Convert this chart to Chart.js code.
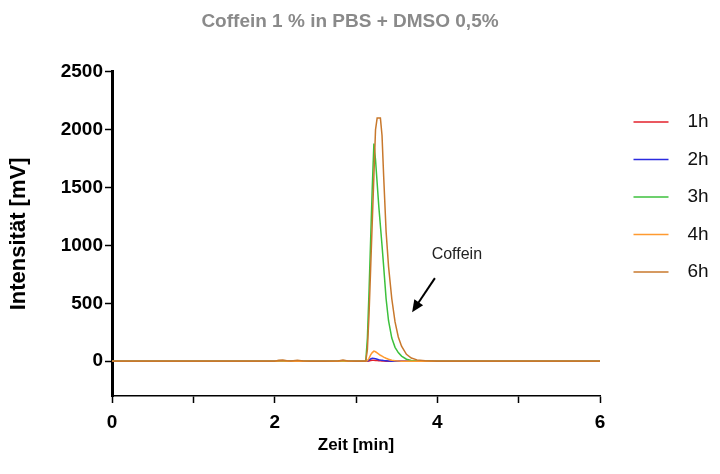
<!DOCTYPE html>
<html lang="de">
<head>
<meta charset="UTF-8">
<title>Coffein 1 % in PBS + DMSO 0,5%</title>
<script src="https://cdn.jsdelivr.net/npm/chart.js"></script>
<style>
body { margin: 0; background: #fff; }
.chart-box { width: 720px; height: 474px; position: relative; }
</style>
</head>
<body>
<div class="chart-box"><canvas id="chromChart"></canvas></div>
<script>
// Retentionszeit [min], dichter um den Coffein-Peak
const zeit = [0, 0.5, 1, 1.5, 2, 2.05, 2.1, 2.15, 2.2, 2.28, 2.35, 2.45, 2.6, 2.78, 2.84, 2.9, 3.0, 3.1,
              3.12, 3.14, 3.16, 3.18, 3.2, 3.22, 3.24, 3.26, 3.28, 3.3, 3.32, 3.34, 3.37, 3.4, 3.44, 3.48,
              3.52, 3.56, 3.62, 3.68, 3.75, 3.85,
              4.0, 4.5, 5.0, 5.5, 6.0];

const probenzeiten = ['1h', '2h', '3h', '4h', '6h'];

// Signal [mV]
const werte1h = [0, 0, 0, 0, 0, 1, 2, 0, 0, 1, 0, 0, 0, 0, 2, 0, 0, 0,
                 0, 1, 3, 6, 8, 8, 7, 6, 5, 4, 3, 2, 1, 1, 0, 0, 0, 0, 0, 0, 0, 0,
                 0, 0, 0, 0, 0];
const werte2h = [0, 0, 0, 0, 0, 1, 2, 0, 0, 1, 0, 0, 0, 0, 2, 0, 0, 0,
                 0, 2, 10, 20, 26, 25, 21, 17, 13, 10, 8, 6, 4, 2, 1, 0, 0, 0, 0, 0, 0, 0,
                 0, 0, 0, 0, 0];
const werte3h = [0, 0, 0, 0, 0, 2, 3, 1, 0, 2, 1, 0, 0, 0, 3, 0, 0, 0,
                 0, 200, 600, 1050, 1500, 1880, 1740, 1540, 1340, 1170, 1000, 820, 540, 350, 200, 120,
                 75, 45, 18, 7, 3, 1,
                 0, 0, 0, 0, 0];
const werte4h = [0, 0, 0, 0, 0, 3, 4, 1, 0, 3, 1, 0, 0, 0, 4, 0, 0, 0,
                 0, 5, 25, 55, 75, 88, 82, 72, 62, 52, 44, 36, 26, 17, 9, 5, 2, 1, 0, 0, 0, 0,
                 0, 0, 0, 0, 0];
const werte6h = [0, 0, 0, 0, 0, 8, 10, 4, 2, 8, 3, 0, 0, 2, 10, 2, 0, 0,
                 0, 100, 400, 800, 1200, 1600, 2000, 2100, 2100, 2100, 1950, 1600, 1120, 820, 540, 340,
                 210, 130, 60, 28, 12, 4,
                 1, 0, 0, 0, 0];

const yTicks = [0, 500, 1000, 1500, 2000, 2500];
const xTicks = [0, 1, 2, 3, 4, 5, 6];
const xTickLabels = ['0', '', '2', '', '4', '', '6'];

const farben = ['#e3212b', '#2b2be0', '#3cc03c', '#ff9a30', '#c8782c'];
const alleWerte = [werte1h, werte2h, werte3h, werte4h, werte6h];

const schrift = '"Liberation Sans", Arial, sans-serif';

// Beschriftung "Coffein" mit Pfeil auf den Peak
const pfeilPlugin = {
    id: 'coffeinPfeil',
    afterDatasetsDraw(chart) {
        const { ctx, scales: { x, y } } = chart;
        ctx.save();
        ctx.fillStyle = '#222';
        ctx.font = '16px ' + schrift;
        ctx.textAlign = 'center';
        ctx.textBaseline = 'middle';
        ctx.fillText('Coffein', x.getPixelForValue(4.24), y.getPixelForValue(917));

        const x1 = x.getPixelForValue(3.97), y1 = y.getPixelForValue(718);
        const x2 = x.getPixelForValue(3.69), y2 = y.getPixelForValue(424);
        const ang = Math.atan2(y2 - y1, x2 - x1);
        const kopf = 13;
        ctx.strokeStyle = '#000';
        ctx.fillStyle = '#000';
        ctx.lineWidth = 2;
        ctx.beginPath();
        ctx.moveTo(x1, y1);
        ctx.lineTo(x2 - Math.cos(ang) * kopf * 0.8, y2 - Math.sin(ang) * kopf * 0.8);
        ctx.stroke();
        ctx.beginPath();
        ctx.moveTo(x2, y2);
        ctx.lineTo(x2 - kopf * Math.cos(ang - 0.42), y2 - kopf * Math.sin(ang - 0.42));
        ctx.lineTo(x2 - kopf * Math.cos(ang + 0.42), y2 - kopf * Math.sin(ang + 0.42));
        ctx.closePath();
        ctx.fill();
        ctx.restore();
    }
};

// Legende etwas vom Diagramm abrücken
const legendeVersatz = {
    id: 'legendeVersatz',
    afterLayout(chart) {
        chart.legend.left += 15;
        chart.legend.right += 15;
    }
};

const datasets = probenzeiten.map((label, i) => ({
    label: label,
    data: zeit.map((t, j) => ({ x: t, y: alleWerte[i][j] })),
    borderColor: farben[i],
    backgroundColor: farben[i],
    borderWidth: 1.5,
    pointRadius: 0,
    tension: 0,
    fill: false,
    order: probenzeiten.length - i   // 6h liegt oben
}));

new Chart(document.getElementById('chromChart'), {
    type: 'line',
    data: { datasets: datasets },
    options: {
        responsive: true,
        maintainAspectRatio: false,
        animation: false,
        devicePixelRatio: 1,
        layout: { padding: { left: 0, right: 20, top: 0, bottom: 0 } },
        plugins: {
            title: {
                display: true,
                text: 'Coffein 1 % in PBS + DMSO 0,5%',
                color: '#8a8a8a',
                font: { family: schrift, size: 19, weight: 'bold' },
                padding: { top: 10, bottom: 39 }
            },
            legend: {
                position: 'right',
                align: 'start',
                maxWidth: 100,
                title: { display: true, text: ' ', font: { size: 10 }, padding: { top: 82, bottom: 0 } },
                labels: {
                    usePointStyle: true,
                    pointStyle: 'line',
                    pointStyleWidth: 35,
                    padding: 18.5,
                    color: '#111',
                    font: { family: schrift, size: 19 },
                    sort: (a, b) => a.datasetIndex - b.datasetIndex,
                    generateLabels(chart) {
                        const items = Chart.defaults.plugins.legend.labels.generateLabels(chart);
                        return items.map(it => Object.assign(it, { text: '\u2002' + it.text }));
                    }
                }
            },
            tooltip: { enabled: false }
        },
        scales: {
            x: {
                type: 'linear',
                min: 0,
                max: 6,
                afterBuildTicks: s => { s.ticks = xTicks.map(v => ({ value: v })); },
                afterFit: s => { s.height = 78; },
                ticks: {
                    autoSkip: false,
                    maxRotation: 0,
                    padding: 8,
                    color: '#000',
                    font: { family: schrift, size: 19, weight: 'bold' },
                    callback: (v, i) => xTickLabels[i]
                },
                grid: { drawOnChartArea: false, tickLength: 7, tickColor: '#000', tickWidth: 1.5 },
                border: { display: true, color: '#000', width: 1.5 },
                title: {
                    display: true,
                    text: 'Zeit [min]',
                    color: '#000',
                    font: { family: schrift, size: 17, weight: 'bold' },
                    padding: { top: 4, bottom: 18 }
                }
            },
            y: {
                min: -300,
                max: 2500,
                afterBuildTicks: s => { s.ticks = yTicks.map(v => ({ value: v })); },
                afterFit: s => { s.width = 112; },
                ticks: {
                    padding: 2,
                    color: '#000',
                    font: { family: schrift, size: 19, weight: 'bold' },
                    callback: v => String(v)
                },
                grid: { drawOnChartArea: false, tickLength: 7, tickColor: '#000', tickWidth: 1.5 },
                border: { display: true, color: '#000', width: 3 },
                title: {
                    display: true,
                    text: 'Intensität [mV]',
                    color: '#000',
                    font: { family: schrift, size: 22, weight: 'bold' },
                    padding: { top: 6, bottom: 4 }
                }
            }
        }
    },
    plugins: [pfeilPlugin, legendeVersatz]
});
</script>
</body>
</html>
